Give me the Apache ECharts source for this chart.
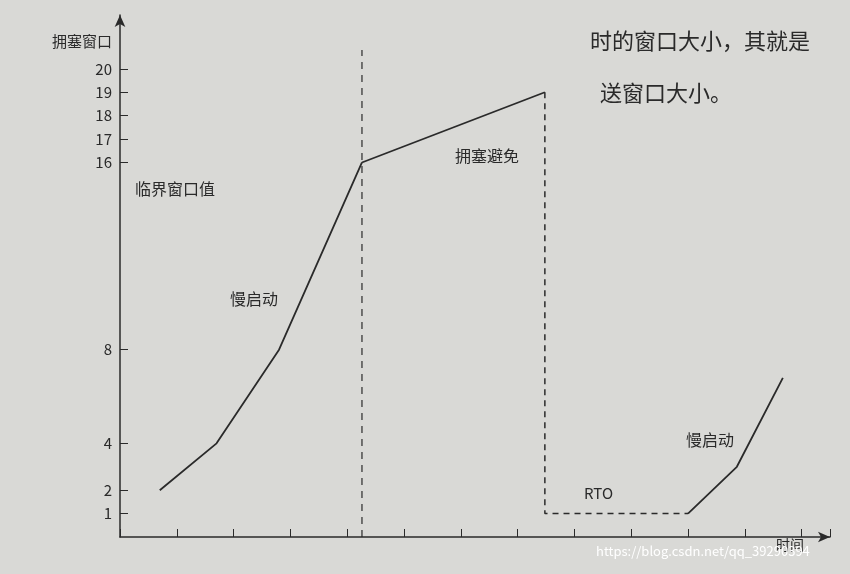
<!DOCTYPE html>
<html lang="zh">
<head>
  <meta charset="UTF-8">
  <title>拥塞窗口</title>
  <script src="https://cdn.jsdelivr.net/npm/echarts@6/dist/echarts.min.js"></script>
  <style>
    html, body { margin: 0; padding: 0; }
    #chart { width: 850px; height: 574px; background: #d9d9d6; }
  </style>
</head>
<body>
  <div id="chart"></div>
  <script>
    // 数据
    var yTicks = [1, 2, 4, 8, 16, 17, 18, 19, 20];
    var slowStart1 = [[0.7, 2], [1.7, 4], [2.8, 8], [4.26, 16]];
    var avoidance = [[4.26, 16], [7.48, 19]];
    var timeout = [[7.48, 19], [7.48, 1], [10.0, 1]];
    var slowStart2 = [[10.0, 1], [10.86, 3], [11.67, 6.8]];
    var threshold = [[4.26, 0], [4.26, 20.8]];

    var chart = echarts.init(document.getElementById('chart'));
    var font = '"Noto Sans CJK SC", sans-serif';
    var ink = '#2a2a2a';

    function txt(x, y, s, size) {
      return { type: 'text', left: x, top: y, style: { text: s, font: (size || 15) + 'px ' + font, fill: ink } };
    }

    chart.setOption({
      animation: false,
      grid: { left: 120, right: 20, top: 15, bottom: 37 },
      xAxis: {
        type: 'value', min: 0, max: 12.5, interval: 1,
        axisLine: { lineStyle: { color: ink, width: 1.5 }, symbol: ['none', 'arrow'], symbolSize: [8, 12] },
        axisTick: { inside: true, length: 8, lineStyle: { color: ink } },
        axisLabel: { show: false },
        splitLine: { show: false }
      },
      yAxis: {
        type: 'value', min: 0, max: 22.3,
        axisLine: { show: true, lineStyle: { color: ink, width: 1.5 }, symbol: ['none', 'arrow'], symbolSize: [8, 12] },
        axisTick: { show: true, inside: true, length: 8, customValues: yTicks, lineStyle: { color: ink } },
        axisLabel: { customValues: yTicks, color: ink, fontSize: 15, fontFamily: font, margin: 8 },
        splitLine: { show: false }
      },
      series: [
        { type: 'line', data: slowStart1, symbol: 'none', lineStyle: { color: ink, width: 1.8 } },
        { type: 'line', data: avoidance, symbol: 'none', lineStyle: { color: ink, width: 1.8 } },
        { type: 'line', data: timeout, symbol: 'none', lineStyle: { color: ink, width: 1.5, type: [6, 5] } },
        { type: 'line', data: slowStart2, symbol: 'none', lineStyle: { color: ink, width: 1.8 } },
        { type: 'line', data: threshold, symbol: 'none', lineStyle: { color: ink, width: 1.2, type: [7, 6] } }
      ],
      graphic: [
        txt(52, 34, '拥塞窗口'),
        txt(135, 181, '临界窗口值', 16),
        txt(230, 291, '慢启动', 16),
        txt(455, 148, '拥塞避免', 16),
        txt(584, 486, 'RTO', 15),
        txt(686, 432, '慢启动', 16),
        txt(776, 538, '时间', 14),
        txt(590, 30, '时的窗口大小，其就是', 22),
        txt(600, 82, '送窗口大小。', 22),
        { type: 'text', left: 596, top: 545, style: { text: 'https://blog.csdn.net/qq_39290394', font: '13px ' + font, fill: '#ffffff' } }
      ]
    });
  </script>
</body>
</html>
